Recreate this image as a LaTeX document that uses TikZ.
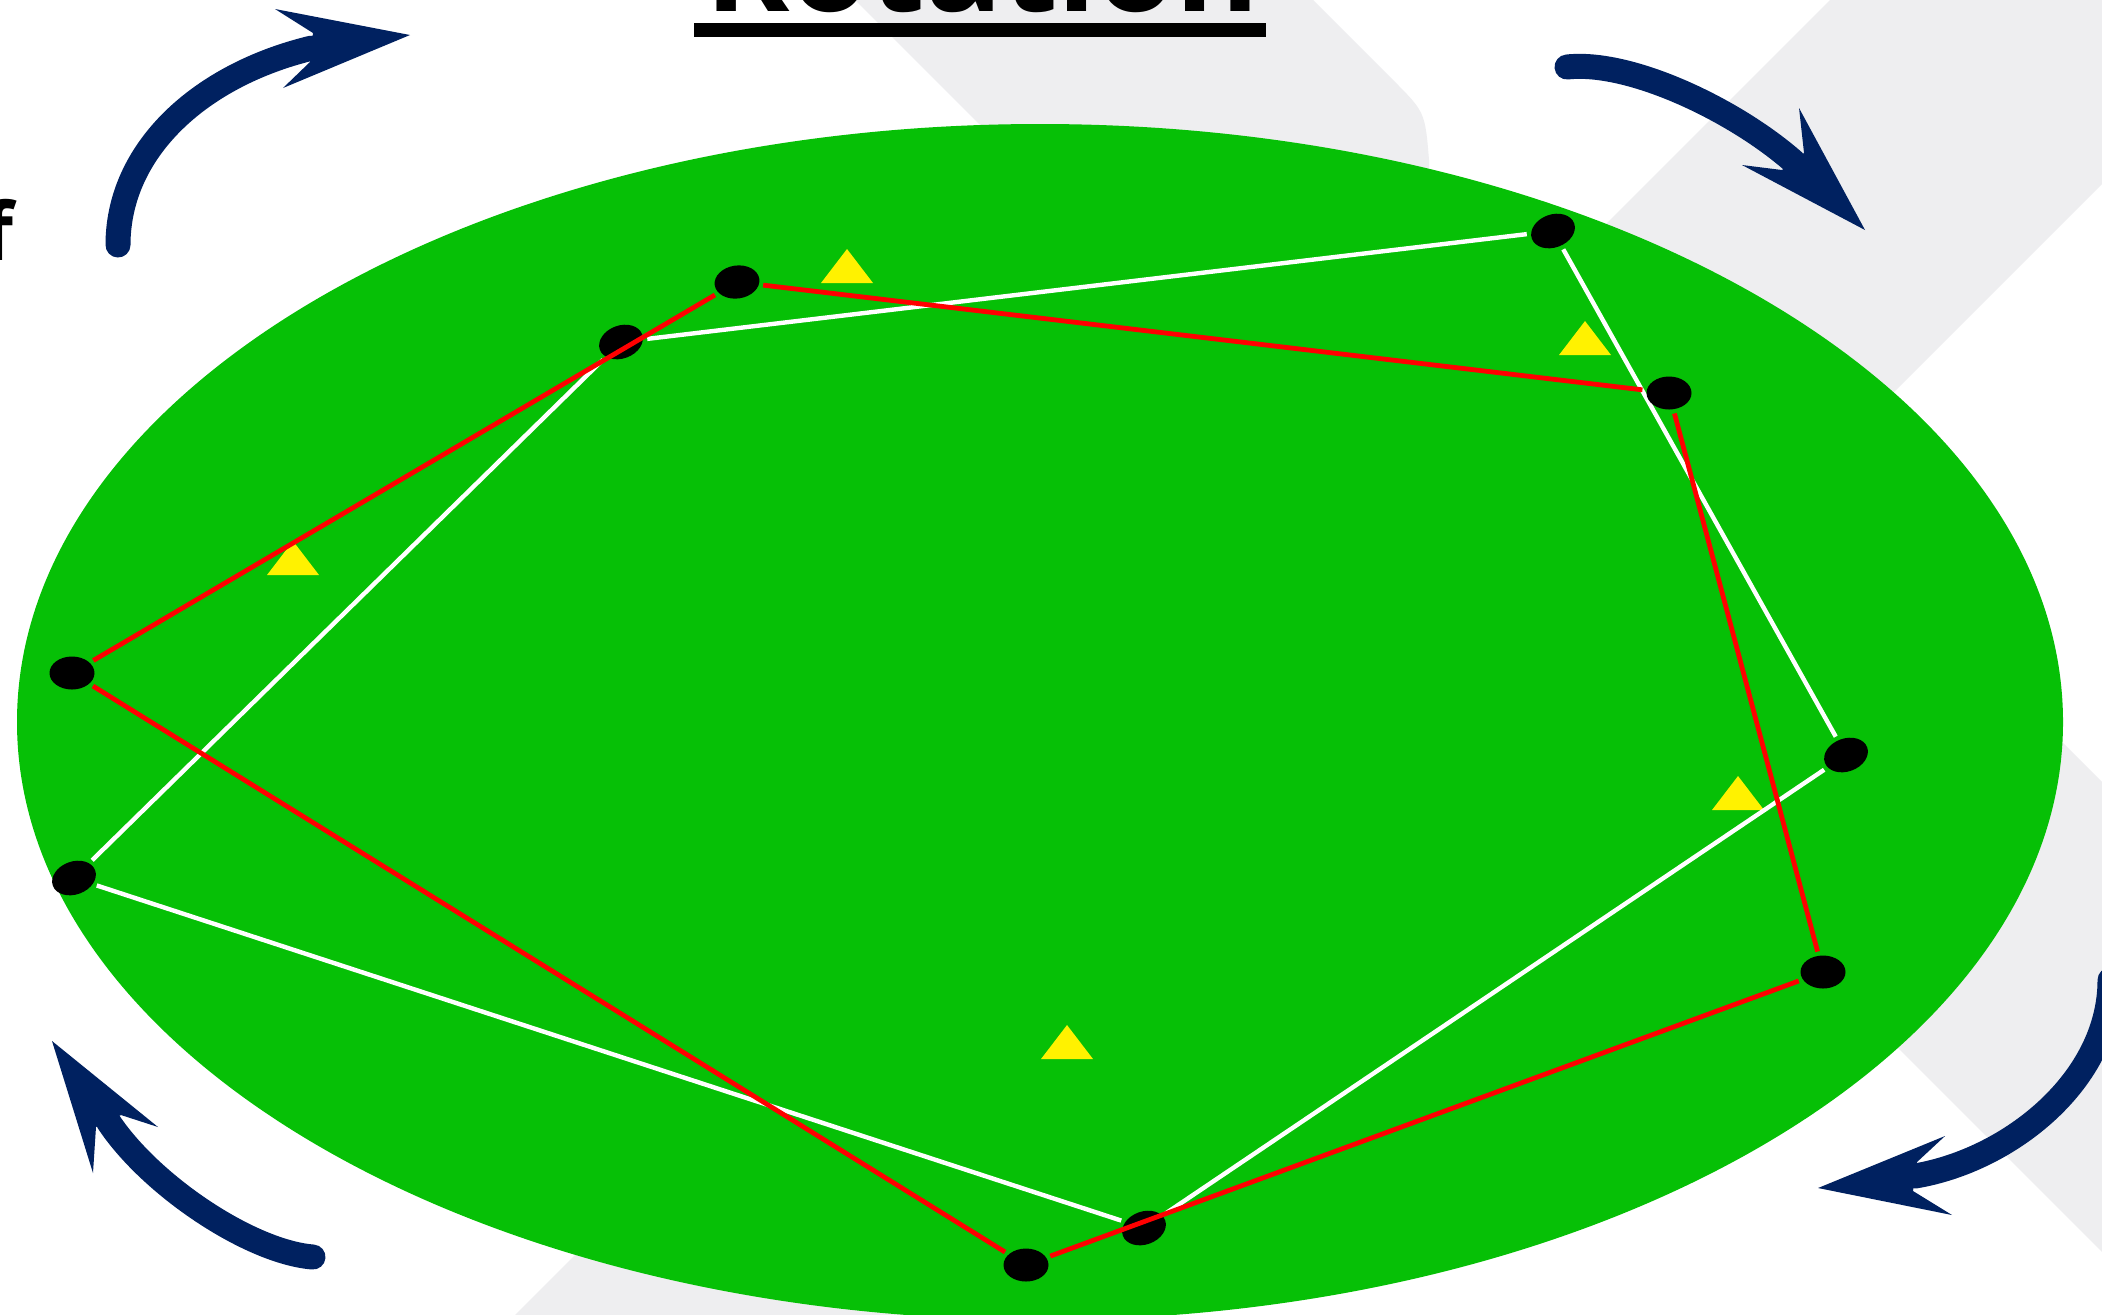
\documentclass[tikz,border=0pt]{standalone}
\usepackage{fontspec}
\setmainfont{Open Sans}
\usetikzlibrary{shapes.geometric}
\definecolor{navy}{RGB}{0,33,96}
\definecolor{grassgreen}{RGB}{6,192,6}
\definecolor{bggrey}{RGB}{238,238,240}
\begin{document}
\begin{tikzpicture}[x=0.5pt,y=-0.5pt,
  dot/.style={ellipse,fill=black,minimum width=22.5pt,minimum height=16.5pt,inner sep=0pt},
  wline/.style={white,line width=2.2pt,shorten >=2pt,shorten <=2pt},
  rline/.style={red,line width=2.4pt,shorten >=2pt,shorten <=2pt},
  arrowline/.style={navy,line width=12.5pt,line cap=round},
  headfill/.style={fill=navy},
  ytri/.pic={\fill[yellow] (0,-17) -- (26,17) -- (-26,17) -- cycle;}
]
\useasboundingbox (0,0) rectangle (2102,1314);
\clip (0,0) rectangle (2102,1314);
\fill[white] (0,0) rectangle (2102,1314);
% grey background bands
\fill[bggrey] (1930,-100) -- (2386,-100) -- (786,1500) -- (330,1500) -- cycle;
\fill[bggrey] (755,-100) -- (1313,0) -- (1393,80) .. controls (1425,112) .. (1429,160) -- (1429,350) -- (1200,345) -- cycle;
\fill[bggrey] (755,-100) -- (1413,-100) -- (1313,0) -- cycle;
\fill[bggrey] (1500,650) -- (1700,380) -- (2700,1380) -- (2500,1650) -- cycle;
% green ellipse
\fill[grassgreen] (1040,722) ellipse [x radius=1023, y radius=598];
% yellow triangles
\pic at (847,266) {ytri};
\pic at (1585,338) {ytri};
\pic at (293,558) {ytri};
\pic at (1738,793) {ytri};
\pic at (1067,1042) {ytri};
% white pentagon
\node[dot,rotate=20] (w1) at (621,342) {};
\node[dot,rotate=20] (w2) at (1553,231) {};
\node[dot,rotate=20] (w3) at (1846,755) {};
\node[dot,rotate=20] (w4) at (1144,1228) {};
\node[dot,rotate=20] (w5) at (74,878) {};
\draw[wline] (w1) -- (w2);
\draw[wline] (w2) -- (w3);
\draw[wline] (w3) -- (w4);
\draw[wline] (w4) -- (w5);
\draw[wline] (w5) -- (w1);
% red pentagon
\node[dot,rotate=8] (r1) at (737,282) {};
\node[dot] (r2) at (1669,393) {};
\node[dot] (r3) at (1823,972) {};
\node[dot] (r4) at (1026,1265) {};
\node[dot] (r5) at (72,673) {};
\draw[rline] (r1) -- (r2);
\draw[rline] (r2) -- (r3);
\draw[rline] (r3) -- (r4);
\draw[rline] (r4) -- (r5);
\draw[rline] (r5) -- (r1);
% rotation arrows
\draw[arrowline] (118,245) .. controls (118,150) and (200,75) .. (312,48);
\fill[headfill] (410,35) -- (275,9) -- (313,33) -- (310,62) -- (283,88) -- cycle;
\draw[arrowline] (1567,67) .. controls (1630,60) and (1735,110) .. (1794,162);
\fill[headfill] (1865,230) -- (1799,108) -- (1804,153) -- (1782,170) -- (1742,165) -- cycle;
\draw[arrowline] (313,1257) .. controls (250,1252) and (150,1185) .. (108,1121);
\fill[headfill] (52,1041) -- (158,1127) -- (121,1115) -- (96,1127) -- (93,1173) -- cycle;
\draw[arrowline] (2110,980) .. controls (2110,1080) and (2010,1160) .. (1915,1176);
\fill[headfill] (1818,1188) -- (1945,1136) -- (1917,1162) -- (1913,1191) -- (1952,1215) -- cycle;
% title
\node[anchor=base,inner sep=0pt] (title) at (983,11) {\resizebox{277pt}{!}{\bfseries Rotation}};
\node[fill=black,minimum width=286pt,minimum height=7pt,inner sep=0pt] (bar) at (980,30) {};
\node[anchor=base east,inner sep=0pt,font=\bfseries\fontsize{40pt}{40pt}\selectfont] (fchar) at (13.5,260) {f};
\end{tikzpicture}
\end{document}
